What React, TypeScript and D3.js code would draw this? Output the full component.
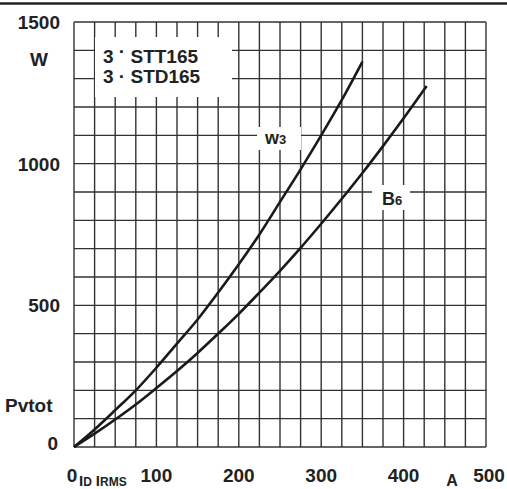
import React from "react";
import { scaleLinear, line, range, curveMonotoneX } from "d3";

// readings: current (A), power (W)
const w3Current = [0, 25, 50, 75, 100, 125, 150, 175, 200, 225, 250, 275, 300, 325, 350];
const w3Power = [0, 62, 130, 200, 280, 365, 450, 545, 645, 750, 865, 980, 1100, 1225, 1360];

const b6Current = [0, 25, 50, 75, 100, 125, 150, 175, 200, 225, 250, 275, 300, 325, 350, 375, 400, 428];
const b6Power = [0, 47, 97, 150, 208, 268, 332, 400, 470, 545, 622, 703, 788, 876, 967, 1062, 1160, 1274];

const xTicks = [0, 100, 200, 300, 400, 500];
const yTicks = [0, 500, 1000, 1500];
const legendLines = ["STT165", "STD165"];

const W = 507;
const H = 489;
const font = "'Liberation Sans', Arial, sans-serif";
const ink = "#222";

const App = () => {
  const x = scaleLinear().domain([0, 500]).range([74, 486]);
  const y = scaleLinear().domain([0, 1500]).range([447, 22]);

  const path = line<[number, number]>()
    .x((d) => x(d[0]))
    .y((d) => y(d[1]))
    .curve(curveMonotoneX);

  const w3 = w3Current.map((c, i) => [c, w3Power[i]] as [number, number]);
  const b6 = b6Current.map((c, i) => [c, b6Power[i]] as [number, number]);

  return (
    <svg
      width={W}
      height={H}
      style={{ position: "absolute", left: 0, top: 0, background: "#fff" }}
      fontFamily={font}
      fontWeight="bold"
    >
      <line x1={0} x2={W} y1={3.5} y2={3.5} stroke={ink} strokeWidth={2.5} />

      {/* grid */}
      <g stroke="#333" strokeWidth={1.4}>
        {range(0, 501, 25).map((v) => (
          <line key={"v" + v} x1={x(v)} x2={x(v)} y1={y(1500)} y2={y(0)} />
        ))}
        {range(0, 1501, 100).map((v) => (
          <line key={"h" + v} x1={x(0)} x2={x(500)} y1={y(v)} y2={y(v)} />
        ))}
      </g>

      {/* label backgrounds */}
      <rect x={95} y={37} width={137} height={60} fill="#fff" />
      <rect x={257} y={127} width={44} height={23} fill="#fff" />
      <rect x={372} y={185} width={38} height={25} fill="#fff" />

      <path d={path(w3) || ""} fill="none" stroke="#1a1a1a" strokeWidth={2.6} />
      <path d={path(b6) || ""} fill="none" stroke="#1a1a1a" strokeWidth={2.6} />

      <g fill={ink}>
        {legendLines.map((t, i) => (
          <text key={t} x={103} y={63 + i * 20} fontSize={19}>
            3{" "}
            <tspan dy={i === 0 ? -5 : 0}>·</tspan>
            <tspan dy={i === 0 ? 5 : 0}> {t}</tspan>
          </text>
        ))}

        <text x={265} y={144} fontSize={18}>
          w<tspan fontSize={13}>3</tspan>
        </text>
        <text x={382} y={205} fontSize={18}>
          B<tspan fontSize={13}>6</tspan>
        </text>

        {yTicks.map((v) => (
          <text key={v} x={v === 0 ? 58 : 60} y={y(v) + (v === 0 ? 3 : 7)} fontSize={19} textAnchor="end">
            {v}
          </text>
        ))}
        <text x={39} y={66} fontSize={19} textAnchor="middle">W</text>
        <text x={5} y={412} fontSize={19}>Pvtot</text>

        {xTicks.map((v) => (
          <text key={v} x={v === 500 ? 489 : x(v) - (v === 0 ? 2 : 0)} y={482} fontSize={19} textAnchor="middle">
            {v}
          </text>
        ))}
        <text x={79} y={486} fontSize={15}>
          I<tspan fontSize={12}>D</tspan>
          <tspan dx={4}>I</tspan>
          <tspan fontSize={12}>RMS</tspan>
        </text>
        <text x={452} y={486} fontSize={16} textAnchor="middle">A</text>
      </g>
    </svg>
  );
};

export default App;
